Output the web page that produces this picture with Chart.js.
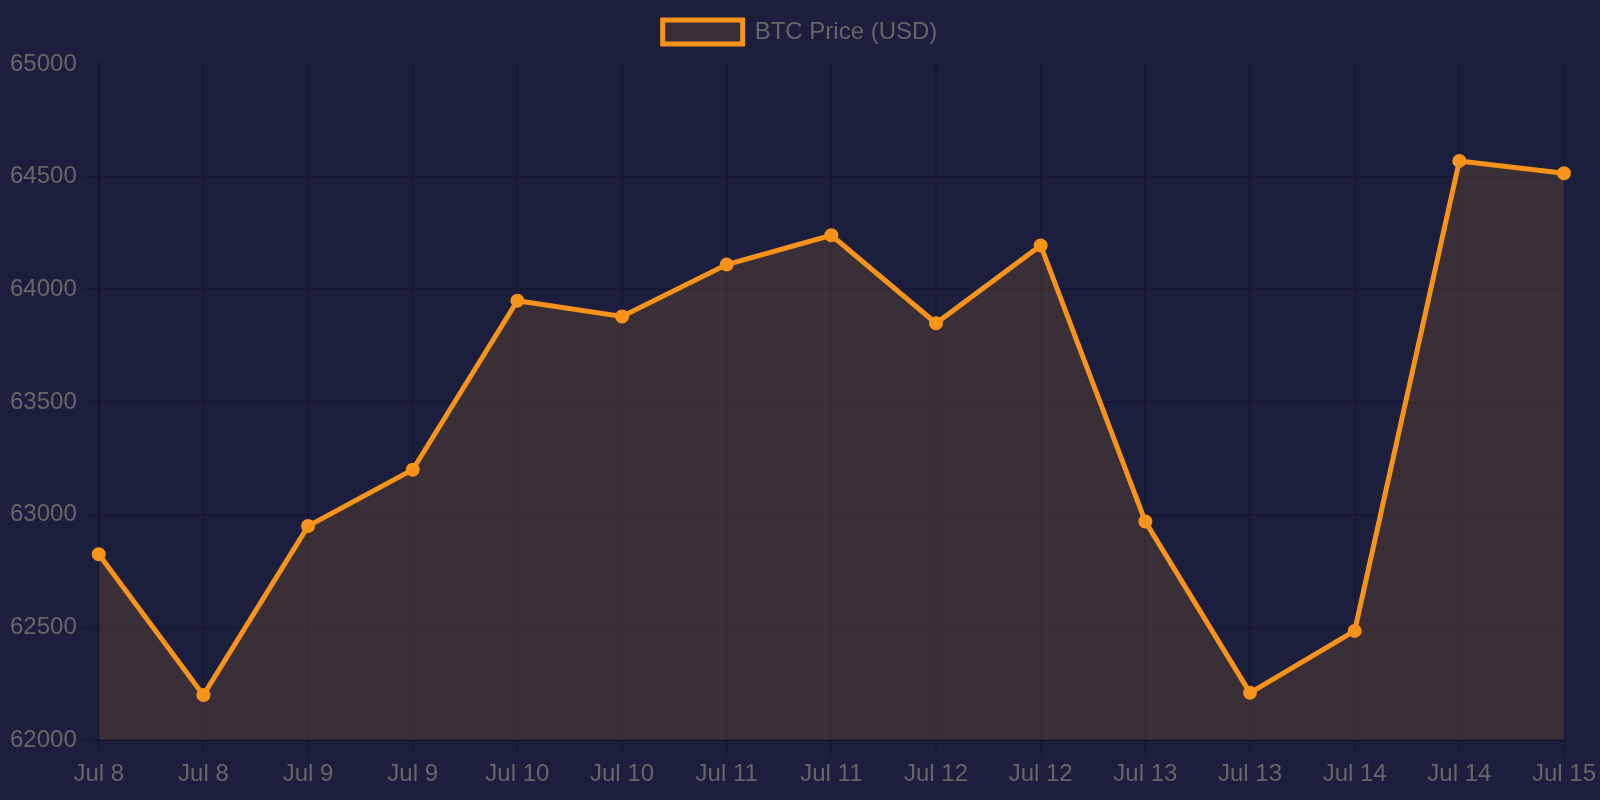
<!DOCTYPE html>
<html>
<head>
<meta charset="utf-8">
<script src="https://cdn.jsdelivr.net/npm/chart.js@4/dist/chart.umd.min.js"></script>
<style>
  html, body { margin: 0; padding: 0; background: #1b1e3c; }
  #wrap { width: 1600px; height: 800px; position: relative; }
</style>
</head>
<body>
<div id="wrap"><canvas id="c"></canvas></div>
<script>
const labels = ["Jul 8","Jul 8","Jul 9","Jul 9","Jul 10","Jul 10","Jul 11","Jul 11","Jul 12","Jul 12","Jul 13","Jul 13","Jul 14","Jul 14","Jul 15"];
const prices = [62825, 62200, 62950, 63200, 63950, 63880, 64110, 64240, 63850, 64195, 62970, 62210, 62485, 64570, 64515];
const yMin = 62000, yMax = 65000, yStep = 500;
const seriesName = "BTC Price (USD)";

Chart.defaults.font.family = "'Liberation Sans', Arial, Helvetica, sans-serif";
Chart.defaults.font.size = 24;
Chart.defaults.color = "#666";

const legendMargin = {
  id: 'legendMargin',
  beforeInit(chart) {
    const orig = chart.legend.fit;
    chart.legend.fit = function () { orig.call(this); this.height += 10; };
  }
};

new Chart(document.getElementById('c'), {
  type: 'line',
  data: {
    labels: labels,
    datasets: [{
      label: seriesName,
      data: prices,
      borderColor: '#f7931a',
      backgroundColor: 'rgba(247,147,26,0.15)',
      borderWidth: 5,
      pointRadius: 6,
      pointBorderWidth: 2,
      pointBackgroundColor: '#f7931a',
      pointBorderColor: '#f7931a',
      fill: true,
      tension: 0
    }]
  },
  plugins: [legendMargin],
  options: {
    responsive: true,
    maintainAspectRatio: false,
    animation: false,
    layout: { padding: { bottom: 7, left: 4, right: 4 } },
    plugins: {
      legend: {
        labels: { boxWidth: 80, boxHeight: 24, padding: 20, font: { size: 24 } }
      },
      tooltip: { enabled: false }
    },
    scales: {
      x: {
        grid: { color: 'rgba(0,0,0,0.1)', lineWidth: 2, tickLength: 16 },
        border: { width: 2, color: 'rgba(0,0,0,0.25)' },
        ticks: { padding: 4, maxRotation: 0, autoSkip: false }
      },
      y: {
        min: yMin, max: yMax,
        grid: { color: 'rgba(0,0,0,0.1)', lineWidth: 2, tickLength: 16 },
        border: { width: 2, color: 'rgba(0,0,0,0.25)' },
        ticks: { stepSize: yStep, padding: 6, callback: (v) => String(v) }
      }
    }
  }
});
</script>
</body>
</html>
